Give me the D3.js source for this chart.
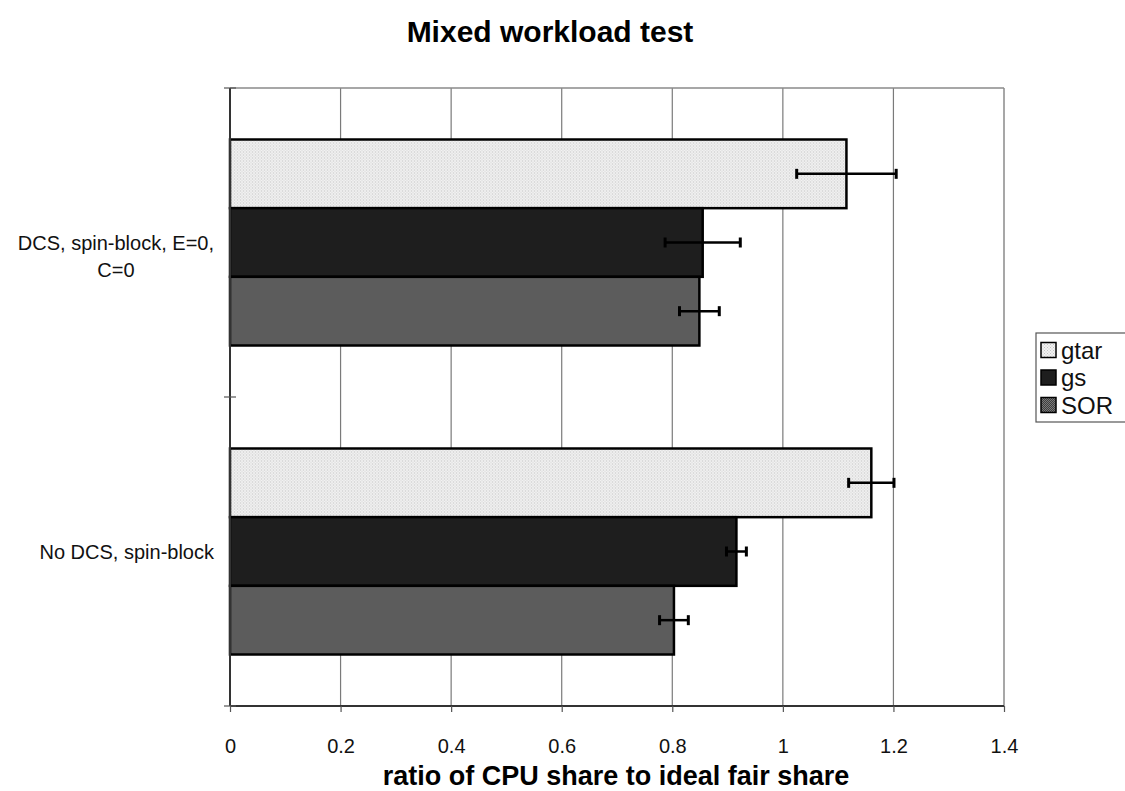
<!DOCTYPE html>
<html>
<head>
<meta charset="utf-8">
<script src="https://cdn.jsdelivr.net/npm/d3@7"></script>
<style>
  html, body { margin: 0; padding: 0; background: #fff; }
  svg { display: block; font-family: "Liberation Sans", Arial, Helvetica, sans-serif; }
</style>
</head>
<body>
<svg id="chart" width="1125" height="791"></svg>
<script>
// Configurations, top to bottom
const categories = [["DCS, spin-block, E=0,", "C=0"], ["No DCS, spin-block"]];
const categoryKeys = ["dcs", "nodcs"];
const seriesNames = ["gtar", "gs", "SOR"];
// mean ratio per configuration, in series order
const gtarValues = [1.115, 1.160];
const gsValues   = [0.855, 0.916];
const sorValues  = [0.849, 0.803];
// half-width of the error bars
const gtarErr = [0.090, 0.041];
const gsErr   = [0.068, 0.018];
const sorErr  = [0.036, 0.026];
const xTicks = [0, 0.2, 0.4, 0.6, 0.8, 1, 1.2, 1.4];
const xTickLabels = ["0", "0.2", "0.4", "0.6", "0.8", "1", "1.2", "1.4"];

const values = [gtarValues, gsValues, sorValues];
const errors = [gtarErr, gsErr, sorErr];

const svg = d3.select("#chart");
const plot = { left: 230, right: 1004, top: 88, bottom: 706 };

const x = d3.scaleLinear().domain([0, 1.4]).range([plot.left, plot.right]);
const y0 = d3.scaleBand().domain(categoryKeys).range([plot.top, plot.bottom])
  .paddingInner(1 / 3).paddingOuter(1 / 6);
const y1 = d3.scaleBand().domain(seriesNames).range([0, y0.bandwidth()]);

// Fill textures for the three series
const defs = svg.append("defs");
function texture(id, bg, dot, size) {
  const p = defs.append("pattern").attr("id", id).attr("patternUnits", "userSpaceOnUse")
    .attr("width", size).attr("height", size);
  p.append("rect").attr("width", size).attr("height", size).attr("fill", bg);
  p.append("rect").attr("x", 0).attr("y", 0).attr("width", 1).attr("height", 1).attr("fill", dot);
  p.append("rect").attr("x", size / 2).attr("y", size / 2).attr("width", 1).attr("height", 1).attr("fill", dot);
}
texture("pGtar", "#f2f2f2", "#c4c4c4", 3);
texture("pGs", "#101010", "#2c2c2c", 2);
texture("pSor", "#3e3e3e", "#7a7a7a", 2);
const fills = { gtar: "url(#pGtar)", gs: "url(#pGs)", SOR: "url(#pSor)" };

// Title
svg.append("text").attr("x", 550).attr("y", 42).attr("text-anchor", "middle")
  .attr("font-size", 30).attr("font-weight", "bold").text("Mixed workload test");

// Vertical grid lines
svg.append("g").selectAll("line").data(xTicks.filter(t => t > 0 && t < 1.4)).join("line")
  .attr("x1", d => x(d)).attr("x2", d => x(d))
  .attr("y1", plot.top).attr("y2", plot.bottom)
  .attr("stroke", "#7a7a7a").attr("stroke-width", 1.2);

// Plot frame (top and right are light, left and bottom are the axes)
svg.append("line").attr("x1", plot.left).attr("x2", plot.right).attr("y1", plot.top).attr("y2", plot.top)
  .attr("stroke", "#8a8a8a").attr("stroke-width", 1.5);
svg.append("line").attr("x1", plot.right).attr("x2", plot.right).attr("y1", plot.top).attr("y2", plot.bottom)
  .attr("stroke", "#8a8a8a").attr("stroke-width", 1.5);

// Bars
const groups = svg.append("g").selectAll("g").data(categoryKeys).join("g")
  .attr("transform", d => `translate(0,${y0(d)})`);

groups.each(function (key, ci) {
  const g = d3.select(this);
  seriesNames.forEach((s, si) => {
    const v = values[si][ci];
    const e = errors[si][ci];
    g.append("rect")
      .attr("x", x(0)).attr("y", y1(s))
      .attr("width", x(v) - x(0)).attr("height", y1.bandwidth())
      .attr("fill", fills[s]).attr("stroke", "#000").attr("stroke-width", 2.5);
    const cy = y1(s) + y1.bandwidth() / 2;
    g.append("line").attr("x1", x(v - e)).attr("x2", x(v + e)).attr("y1", cy).attr("y2", cy)
      .attr("stroke", "#000").attr("stroke-width", 2.5);
    [v - e, v + e].forEach(t => {
      g.append("line").attr("x1", x(t)).attr("x2", x(t)).attr("y1", cy - 5).attr("y2", cy + 5)
        .attr("stroke", "#000").attr("stroke-width", 3);
    });
  });
});

// X axis
const xAxis = d3.axisBottom(x).tickValues(xTicks).tickSize(6)
  .tickFormat((d, i) => xTickLabels[i]);
const gx = svg.append("g").attr("transform", `translate(0,${plot.bottom})`).call(xAxis);
gx.select(".domain").attr("stroke", "#333").attr("stroke-width", 2).attr("d", `M${plot.left},0H${plot.right}`);
gx.selectAll(".tick line").attr("stroke", "#555").attr("stroke-width", 1.2);
gx.selectAll(".tick text").attr("font-size", 20).attr("dy", 0).attr("y", 47).attr("fill", "#111")
  .attr("font-family", "Liberation Sans, Arial, sans-serif");

// Y axis: line with tick marks at category boundaries
svg.append("line").attr("x1", plot.left).attr("x2", plot.left).attr("y1", plot.top).attr("y2", plot.bottom)
  .attr("stroke", "#333").attr("stroke-width", 2);
const bounds = [plot.top, y0(categoryKeys[1]) - y0.step() * y0.paddingInner() / 2, plot.bottom];
svg.append("g").selectAll("line").data(bounds).join("line")
  .attr("x1", plot.left - 6).attr("x2", plot.left + 6).attr("y1", d => d).attr("y2", d => d)
  .attr("stroke", "#555").attr("stroke-width", 1.2);

// Category labels: each block right edge near the axis, lines centred within the block
categoryKeys.forEach((key, ci) => {
  const lines = categories[ci];
  const cy = y0(key) + y0.bandwidth() / 2;
  const t = svg.append("text").attr("text-anchor", "middle").attr("font-size", 20).attr("fill", "#111");
  const spans = lines.map((ln, li) => t.append("tspan").attr("y", cy + 7 + li * 27).text(ln));
  const w = d3.max(spans, s => s.node().getComputedTextLength());
  spans.forEach(s => s.attr("x", 214 - w / 2));
});

// X axis title
svg.append("text").attr("x", 616).attr("y", 785).attr("text-anchor", "middle")
  .attr("font-size", 27).attr("font-weight", "bold").text("ratio of CPU share to ideal fair share");

// Legend
const leg = svg.append("g").attr("transform", "translate(1036,333)");
leg.append("rect").attr("x", 0).attr("y", 0).attr("width", 100).attr("height", 89)
  .attr("fill", "#fff").attr("stroke", "#555").attr("stroke-width", 1.2);
seriesNames.forEach((s, i) => {
  const row = leg.append("g").attr("transform", `translate(5,${17 + i * 27.5})`);
  row.append("rect").attr("x", 0).attr("y", -7.5).attr("width", 15).attr("height", 15)
    .attr("fill", fills[s]).attr("stroke", "#000").attr("stroke-width", 1.5);
  row.append("text").attr("x", 20).attr("y", 8.5).attr("font-size", 24).attr("fill", "#111").text(s);
});
</script>
</body>
</html>
